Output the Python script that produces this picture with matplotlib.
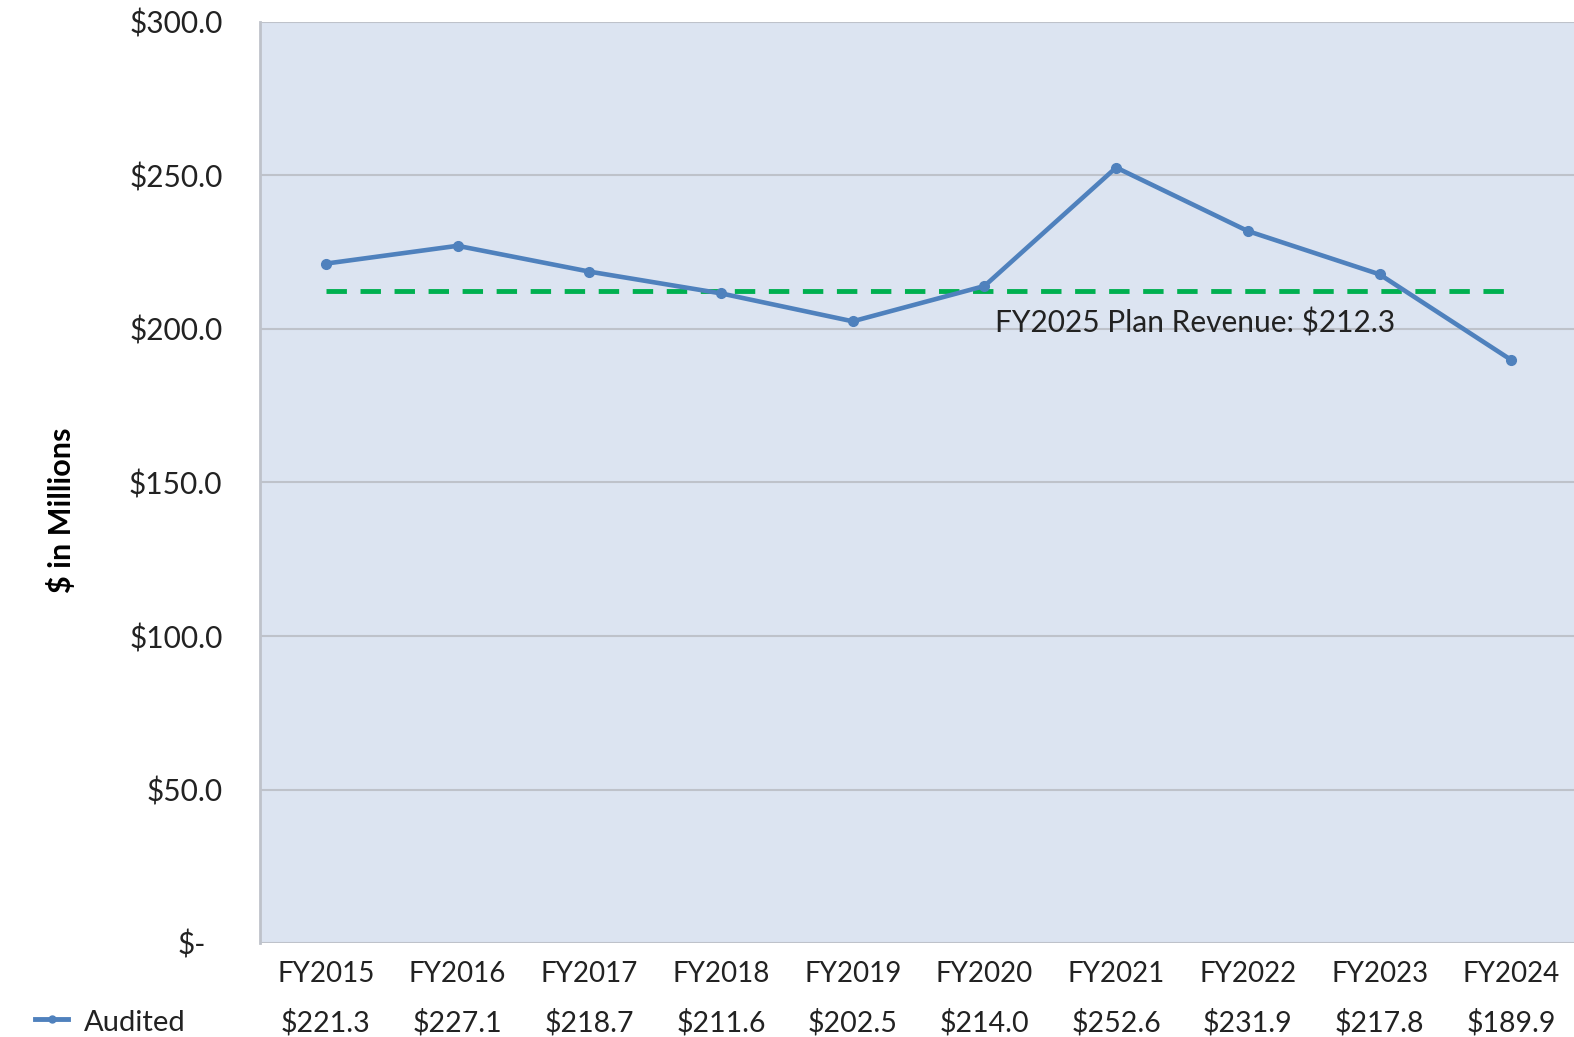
import matplotlib
matplotlib.use("Agg")
import matplotlib.pyplot as plt
from matplotlib.transforms import blended_transform_factory, ScaledTranslation

years = ["FY2015", "FY2016", "FY2017", "FY2018", "FY2019",
         "FY2020", "FY2021", "FY2022", "FY2023", "FY2024"]
audited = [221.3, 227.1, 218.7, 211.6, 202.5, 214.0, 252.6, 231.9, 217.8, 189.9]
plan_revenue = 212.3
plan_label = "FY2025 Plan Revenue: $212.3"
yticks = [0, 50, 100, 150, 200, 250, 300]
ytick_labels = ["$-", "$50.0", "$100.0", "$150.0", "$200.0", "$250.0", "$300.0"]
series_name = "Audited"

plt.rcParams['font.family'] = ['Lato', 'DejaVu Sans']

W, H = 1574, 1037
fig = plt.figure(figsize=(W / 100, H / 100), dpi=100)
ax = fig.add_axes([260 / W, 1 - 943 / H, 1 - 260 / W + 0.002, (943 - 22) / H])

bg = "#DCE4F1"
ax.set_facecolor(bg)
x = list(range(len(years)))
blue = "#4F81BD"
green = "#00B050"

ax.set_xlim(-0.5, len(years) - 0.5)
ax.set_ylim(0, 300)
ax.set_yticks(yticks)
ax.set_yticklabels(ytick_labels, fontsize=21.5, color="#222222")
ax.tick_params(axis='y', length=0, pad=27)
ax.set_xticks([])
ax.grid(axis='y', color="#BEC2CA", linewidth=1.5)
ax.set_axisbelow(True)
for s in ["top", "right", "bottom"]:
    ax.spines[s].set_visible(False)
ax.spines["left"].set_color("#BEC2CA")
ax.spines["left"].set_linewidth(2)

# accounting-style zero label sits a bit left of the others
zero_lbl = ax.get_yticklabels()[0]
zero_lbl.set_transform(zero_lbl.get_transform()
                       + ScaledTranslation(-17 / 100, 0, fig.dpi_scale_trans))

ax.plot(x, [plan_revenue] * len(x), color=green, linewidth=3.5,
        linestyle=(0, (4.2, 2.8)), zorder=3)
ax.plot(x, audited, color=blue, linewidth=3.3, marker='o', markersize=7,
        zorder=4)

ax.text(5.08, plan_revenue - 10.5, plan_label, fontsize=21.5, color="#222222",
        ha='left', va='center', zorder=5)

ax.set_ylabel("$ in Millions", fontsize=22, fontweight='bold')
ax.yaxis.set_label_coords(-0.14, 0.47)

trans = blended_transform_factory(ax.transData, fig.transFigure)
for i, (yr, v) in enumerate(zip(years, audited)):
    ax.text(i, 1 - 974 / H, yr, transform=trans, fontsize=20, ha='center',
            va='center', color="#222222", clip_on=False)
    ax.text(i, 1 - 1023 / H, f"${v:.1f}", transform=trans, fontsize=20.5,
            ha='center', va='center', color="#222222", clip_on=False)

leg = plt.Line2D([35 / W, 51.5 / W, 68 / W], [1 - 1019 / H] * 3,
                 transform=fig.transFigure, color=blue, linewidth=3.5,
                 marker='o', markersize=5, markevery=[1])
fig.lines.append(leg)
fig.text(84 / W, 1 - 1023 / H, series_name, fontsize=21, ha='left',
         va='center', color="#222222")

fig.savefig("out.png", dpi=100, facecolor="white")
